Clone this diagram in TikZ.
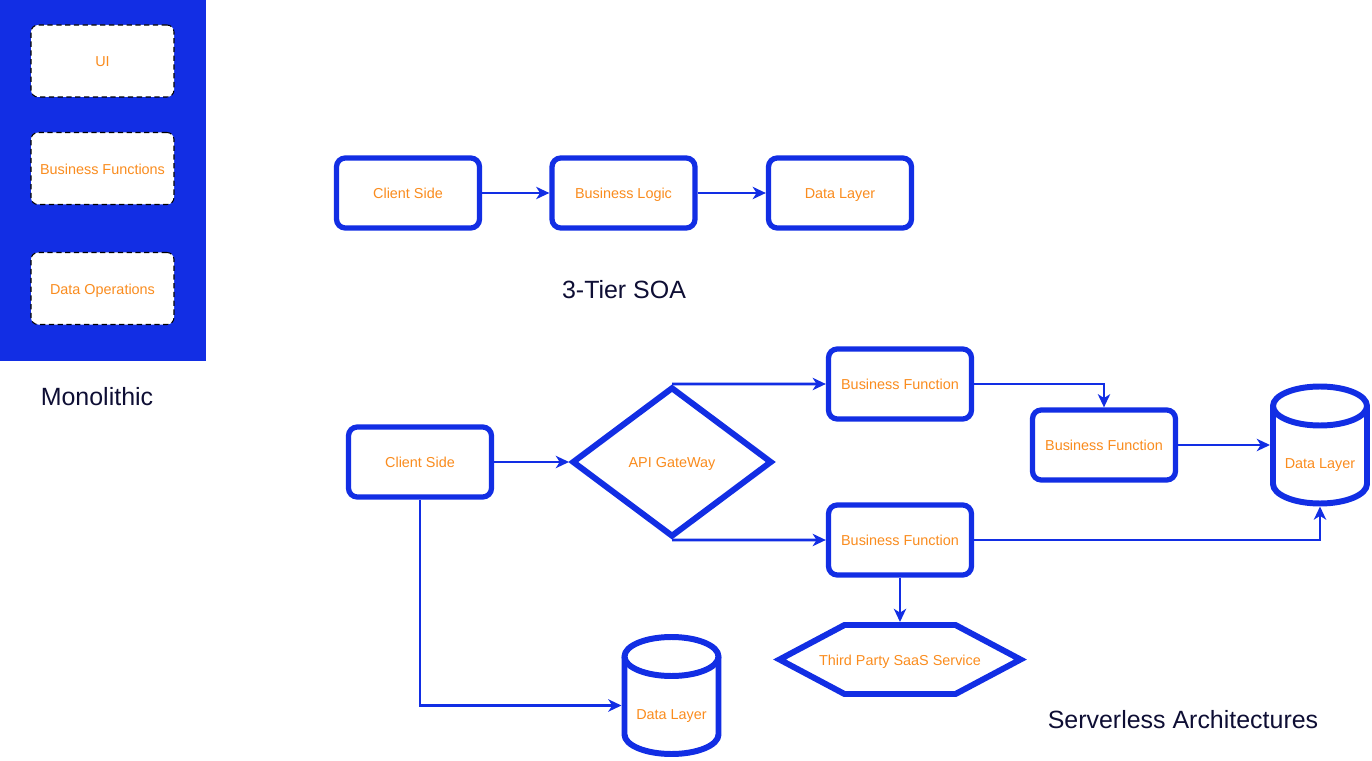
\documentclass[tikz,border=0pt]{standalone}
\usepackage{fontspec}
\setmainfont{Liberation Sans}
\definecolor{arblue}{RGB}{18,46,228}
\definecolor{arorange}{RGB}{250,140,30}
\definecolor{arnavy}{RGB}{14,14,52}
\usetikzlibrary{arrows.meta,positioning,shapes.geometric,calc}

% outline of a data store drawn round a named node
\newcommand{\dbshape}[1]{%
  \draw[dbline] ([yshift=-0.45cm]#1.north) ellipse[x radius=0.94cm, y radius=0.39cm];
  \draw[dbline] ([shift={(0.06,-0.45)}]#1.north west) -- ([shift={(0.06,0.45)}]#1.south west)
    arc[start angle=180, end angle=360, x radius=0.94cm, y radius=0.39cm]
    -- ([shift={(-0.06,-0.45)}]#1.north east);}
% outline of the hexagon drawn on a named node
\newcommand{\hexshape}[1]{%
  \draw[dbline, line join=miter] (#1.west) -- ([xshift=1.3cm]#1.north west)
    -- ([xshift=-1.3cm]#1.north east) -- (#1.east)
    -- ([xshift=-1.3cm]#1.south east) -- ([xshift=1.3cm]#1.south west) -- cycle;}

\begin{document}
\begin{tikzpicture}[
  nodefont/.style={font=\fontsize{8.2}{10}\selectfont, text=arorange,
                   text height=1.5ex, text depth=0.25ex},
  tbox/.style={rectangle, rounded corners=5pt, draw=arblue, line width=3pt,
               fill=white, minimum width=2.86cm, minimum height=1.4cm,
               nodefont, align=center},
  mbox/.style={rectangle, rounded corners=4pt, draw=black, densely dashed,
               line width=0.6pt, fill=white, minimum width=2.86cm,
               minimum height=1.44cm, nodefont, align=center},
  gate/.style={diamond, draw=arblue, line width=3.4pt, fill=white,
               minimum width=4.0cm, minimum height=3.0cm, inner sep=0pt, nodefont},
  saas/.style={rectangle, minimum width=4.82cm, minimum height=1.38cm,
               outer sep=0pt, nodefont},
  dbnode/.style={rectangle, minimum width=2.0cm, minimum height=2.46cm,
                 outer sep=0pt, nodefont, text height=0.94cm, text depth=0pt},
  dbline/.style={draw=arblue, line width=3.4pt, line join=round},
  title/.style={font=\fontsize{14.2}{17}\selectfont, text=arnavy},
  conn/.style={-{Stealth[length=7.5pt, width=7pt, inset=2.2pt]}, line width=1.5pt, draw=arblue}
]
\useasboundingbox (0,0) rectangle (27.44,15.2);

% Monolithic
\node[rectangle, fill=arblue, minimum width=4.12cm, minimum height=7.22cm, inner sep=0pt] (mono) at (2.06,11.59) {};
\node[mbox] (ui)   at (2.05,13.98) {UI};
\node[mbox] (bfun) at (2.05,11.83) {Business Functions};
\node[mbox] (dops) at (2.05,9.43)  {Data Operations};
\node[title] (monolbl) at (1.94,7.26) {Monolithic};

% 3-Tier SOA
\node[tbox] (cs1) at (8.16,11.34) {Client Side};
\node[tbox] (bl1) at (12.47,11.34) {Business Logic};
\node[tbox] (dl0) at (16.8,11.34) {Data Layer};
\node[title] (soalbl) at (12.48,9.4) {3-Tier SOA};

\draw[conn] (cs1.east) -- (bl1.west);
\draw[conn] (bl1.east) -- (dl0.west);

% Serverless
\node[tbox] (cs2) at (8.4,5.96) {Client Side};
\node[gate] (api) at (13.44,5.96) {API GateWay};
\node[tbox] (bf1) at (18,7.52) {Business Function};
\node[tbox] (bf2) at (22.08,6.3) {Business Function};
\node[tbox] (bf3) at (18,4.40) {Business Function};
\node[dbnode] (dl1) at (26.4,6.3) {Data Layer};
\node[dbnode] (dl2) at (13.43,1.29) {Data Layer};
\node[saas] (hex) at (18,2.01) {Third Party SaaS Service};
\dbshape{dl1}
\dbshape{dl2}
\hexshape{hex}
\node[title] (srvlbl) at (23.66,0.8) {Serverless Architectures};

\draw[conn] (cs2.east) -- (api.west);
\draw[conn] (api.north) -- (bf1.west);
\draw[conn] (api.south) -- (bf3.west);
\draw[conn] (bf1.east) -| (bf2.north);
\draw[conn] (bf2.east) -- (dl1.west);
\draw[conn] (bf3.east) -| (dl1.south);
\draw[conn] (bf3.south) -- ([yshift=0.06cm]hex.north);
\draw[conn] (cs2.south) |- ([yshift=-0.2cm]dl2.west);
\end{tikzpicture}
\end{document}
